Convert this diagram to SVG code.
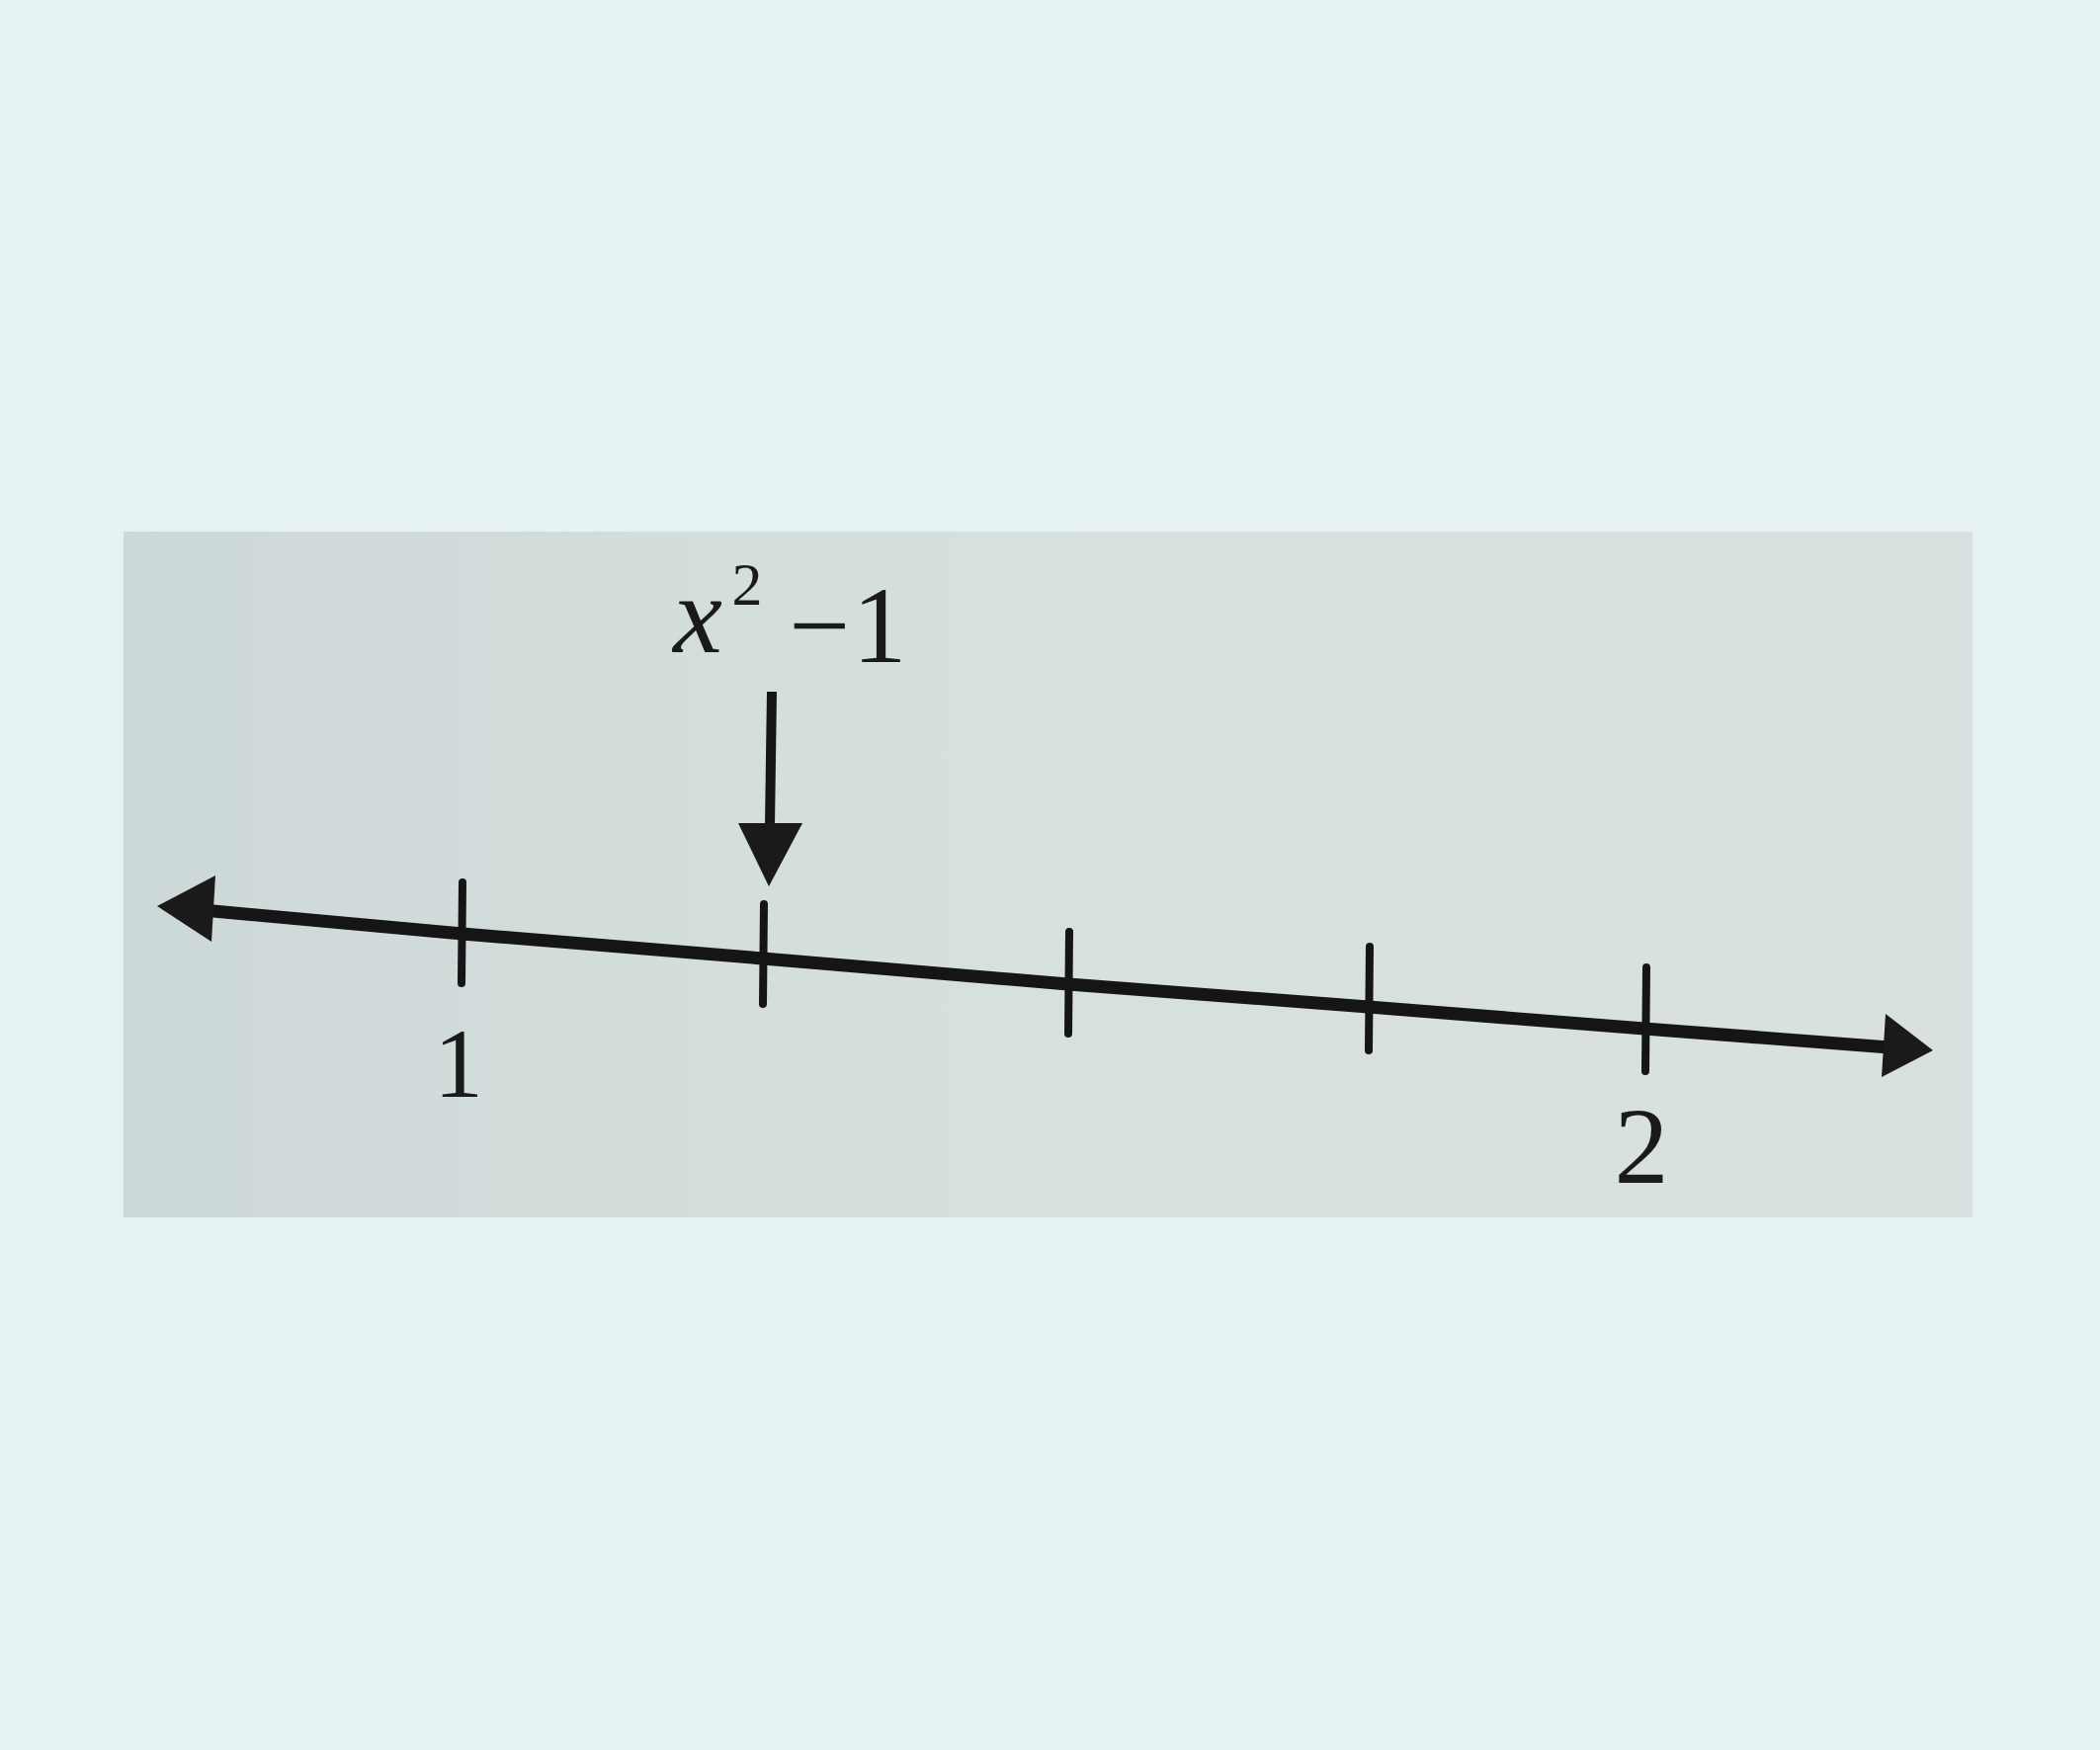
<svg xmlns="http://www.w3.org/2000/svg" width="2125" height="1771" viewBox="0 0 2125 1771">
<defs>
<linearGradient id="paper" x1="0" y1="0" x2="1" y2="0">
<stop offset="0" stop-color="#cdd9d8"/>
<stop offset="0.5" stop-color="#d6e0df"/>
<stop offset="1" stop-color="#d8e1e0"/>
</linearGradient>
<style>
.axis{fill:none;stroke:#151515;stroke-width:13;stroke-linejoin:round}
.tick{stroke:#151515;stroke-width:8;stroke-linecap:round}
.head{fill:#1a1a1a}
.lbl{font-family:"Liberation Serif","Times New Roman",serif;fill:#1a1a1a}
</style>
</defs>
<rect width="2125" height="1771" fill="#e5f1f2"/>
<rect x="125" y="538" width="1871" height="694" fill="url(#paper)"/>
<g id="connectors">
<polyline class="axis" points="205,921 468,945 772,970 1081,996 1385,1019 1664,1041 1912,1060"/>
<polygon class="head" points="159,917 218,886 214,953"/>
<polygon class="head" points="1956,1063 1908,1026 1904,1090"/>
<line x1="781" y1="700" x2="779" y2="836" stroke="#151515" stroke-width="10"/>
<polygon class="head" points="747,833 812,833 778,897"/>
</g>
<g id="tick1"><line class="tick" x1="468" y1="893" x2="467" y2="995"/><text class="lbl" x="464" y="1110" font-size="100" text-anchor="middle">1</text></g>
<g id="tick2"><line class="tick" x1="773" y1="915" x2="772" y2="1016"/></g>
<g id="tick3"><line class="tick" x1="1082" y1="943" x2="1081" y2="1046"/></g>
<g id="tick4"><line class="tick" x1="1386" y1="958" x2="1385" y2="1063"/></g>
<g id="tick5"><line class="tick" x1="1666" y1="979" x2="1665" y2="1084"/><text class="lbl" x="1661" y="1197" font-size="110" text-anchor="middle">2</text></g>
<g id="label-x2-1">
<text class="lbl" x="706" y="660" font-size="112" font-style="italic" text-anchor="middle">x</text>
<text class="lbl" x="756" y="612" font-size="62" text-anchor="middle">2</text>
<text class="lbl" x="829" y="670" font-size="110" text-anchor="middle">−</text>
<text class="lbl" x="890" y="670" font-size="110" text-anchor="middle">1</text>
</g>
</svg>
